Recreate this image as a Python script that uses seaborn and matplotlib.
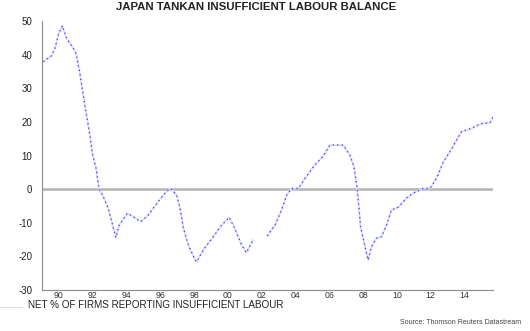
import numpy as np
import pandas as pd
import matplotlib
matplotlib.use("Agg")
import matplotlib.pyplot as plt
import matplotlib.lines as mlines
import seaborn as sns

# Traced values (decimal year, net % of firms reporting insufficient labour)
years_a = [1989.08, 1989.57, 1989.77, 1989.96, 1990.20, 1990.46, 1990.85, 1991.01,
           1991.21, 1991.41, 1991.60, 1991.80, 1992.00, 1992.20, 1992.37, 1992.63,
           1992.92, 1993.18, 1993.37, 1993.57, 1994.05, 1994.40, 1994.84, 1995.29,
           1995.88, 1996.34, 1996.61, 1996.97, 1997.17, 1997.37, 1997.66, 1998.06,
           1998.15, 1998.54, 1999.13, 1999.63, 2000.08, 2000.41, 2000.81, 2001.10,
           2001.49]
values_a = [37.9, 39.7, 41.9, 45.8, 48.6, 44.8, 41.9, 40.4,
            35.4, 29.0, 23.0, 17.1, 10.1, 6.2, 0.2, -2.3,
            -5.7, -10.7, -14.4, -10.7, -7.2, -8.2, -9.7, -7.7,
            -3.7, -0.8, 0.2, -1.8, -5.7, -11.7, -16.6, -21.1,
            -21.6, -18.1, -14.2, -10.7, -8.4, -11.7, -16.6, -18.9,
            -15.1]
years_b = [2002.33, 2002.79, 2003.18, 2003.48, 2003.77, 2004.17, 2004.56, 2005.15,
           2005.64, 2006.04, 2006.83, 2007.22, 2007.46, 2007.65, 2007.75, 2007.85,
           2008.30, 2008.50, 2008.79, 2009.09, 2009.39, 2009.68, 2010.08, 2010.57,
           2010.96, 2011.56, 2011.96, 2012.35, 2012.75, 2013.14, 2013.54, 2013.83,
           2014.43, 2014.82, 2015.11, 2015.51, 2015.75]
values_b = [-13.9, -10.7, -6.2, -1.8, 0.2, 0.2, 3.2, 7.2,
            9.8, 13.1, 13.1, 10.1, 6.7, 0.2, -5.2, -11.2,
            -21.1, -17.1, -14.6, -14.2, -10.7, -6.2, -5.4, -2.7,
            -1.2, 0.2, 0.2, 3.2, 8.1, 11.1, 14.6, 17.1,
            18.1, 19.1, 19.6, 19.7, 22.0]

tick_labels = ["90", "92", "94", "96", "98", "00", "02", "04", "06", "08", "10", "12", "14"]
label_years = [1990, 1992, 1994, 1996, 1998, 2000, 2002, 2004, 2006, 2008, 2010, 2012, 2014]

df = pd.DataFrame({
    "year": years_a + years_b,
    "value": values_a + values_b,
    "seg": ["a"] * len(years_a) + ["b"] * len(years_b),
})

W, H = 530, 331
fig = plt.figure(figsize=(W / 100, H / 100), dpi=100)
sns.set_style("white")
plt.rcParams["font.family"] = ["Liberation Sans", "DejaVu Sans"]
plt.rcParams["axes.unicode_minus"] = False

ax = fig.add_axes([42 / W, 1 - 290 / H, (493 - 42) / W, (290 - 21) / H])
ax.axhline(0, color="#b4b4b4", lw=1.8, zorder=1)
sns.lineplot(data=df, x="year", y="value", units="seg", estimator=None,
             color="#dadaff", lw=1.3, ax=ax, zorder=2)
sns.lineplot(data=df, x="year", y="value", units="seg", estimator=None,
             color="#3333ff", lw=0.9, linestyle=(0, (1, 2.6)), ax=ax, zorder=3)

ax.set_xlim(1989.0, 2015.69)
ax.set_ylim(-30, 50)
ax.set_xlabel("")
ax.set_ylabel("")

for s in ["top", "right"]:
    ax.spines[s].set_visible(False)
for s in ["left", "bottom"]:
    ax.spines[s].set_color("#8c8c8c")
    ax.spines[s].set_linewidth(0.8)

ax.set_yticks(np.arange(-30, 51, 10))
ax.set_yticks(np.arange(-30, 51, 2), minor=True)
ax.tick_params(axis="y", which="major", length=4, width=0.8, color="#8c8c8c",
               labelsize=7, labelcolor="#222222", pad=3)
ax.tick_params(axis="y", which="minor", length=2.5, width=0.7, color="#8c8c8c")

ax.set_xticks(np.arange(1989, 2016, 2))
ax.set_xticklabels([])
ax.set_xticks(label_years, minor=True)
ax.set_xticklabels(tick_labels, minor=True)
ax.tick_params(axis="x", which="major", length=4, width=0.8, color="#8c8c8c")
ax.tick_params(axis="x", which="minor", length=0, labelsize=6.3,
               labelcolor="#333333", pad=0.5)

# faint legend sample stub at the bottom left
fig.add_artist(mlines.Line2D([0, 22 / W], [1 - 307 / H, 1 - 307 / H],
                             color="#dcdcf0", lw=0.8))

fig.text(256 / W, 1 - 7 / H, "JAPAN TANKAN INSUFFICIENT LABOUR BALANCE",
         ha="center", va="center", fontsize=8.2, fontweight="bold", color="#222222")
fig.text(28 / W, 1 - 305 / H, "NET % OF FIRMS REPORTING INSUFFICIENT LABOUR",
         ha="left", va="center", fontsize=7.1, color="#222222")
fig.text(521 / W, 1 - 322 / H, "Source: Thomson Reuters Datastream",
         ha="right", va="center", fontsize=5, color="#444444")

fig.savefig("out.png", dpi=100)
